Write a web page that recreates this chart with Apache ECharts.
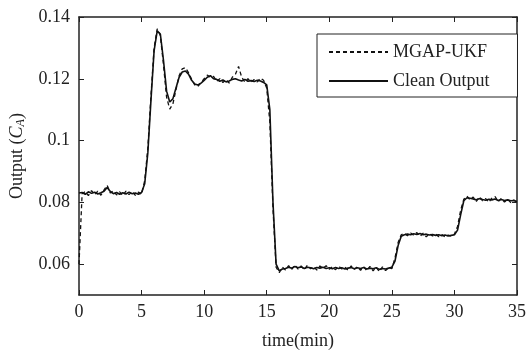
<!DOCTYPE html>
<html>
<head>
<meta charset="utf-8">
<script src="https://cdn.jsdelivr.net/npm/echarts@6/dist/echarts.min.js"></script>
<style>html,body{margin:0;padding:0;background:#fff;}#c{width:529px;height:355px;}</style>
</head>
<body>
<div id="c"></div>
<script>
var times = [
 0,0.25,0.5,0.75,1,1.25,1.5,1.75,2,2.25,2.5,2.75,3,3.25,3.5,3.75,4,4.25,4.5,4.75,
 5,5.25,5.5,5.75,6,6.25,6.5,6.75,7,7.25,7.5,7.75,8,8.25,8.5,8.75,9,9.25,9.5,9.75,
 10,10.25,10.5,10.75,11,11.25,11.5,11.75,12,12.25,12.5,12.75,13,13.25,13.5,13.75,14,14.25,14.5,14.75,
 15,15.25,15.5,15.75,16,16.25,16.5,16.75,17,17.25,17.5,17.75,18,18.25,18.5,18.75,19,19.25,19.5,19.75,
 20,20.25,20.5,20.75,21,21.25,21.5,21.75,22,22.25,22.5,22.75,23,23.25,23.5,23.75,24,24.25,24.5,24.75,
 25,25.25,25.5,25.75,26,26.25,26.5,26.75,27,27.25,27.5,27.75,28,28.25,28.5,28.75,29,29.25,29.5,29.75,
 30,30.25,30.5,30.75,31,31.25,31.5,31.75,32,32.25,32.5,32.75,33,33.25,33.5,33.75,34,34.25,34.5,34.75,
 35
];
var cleanOutput = [
 0.0830,0.0832,0.0826,0.0834,0.0829,0.0833,0.0827,0.0831,0.0836,0.0848,0.0835,0.0828,0.0832,0.0826,0.0831,0.0827,0.0833,0.0828,0.0830,0.0826,
 0.0832,0.0860,0.0960,0.1130,0.1290,0.1355,0.1345,0.1260,0.1160,0.1125,0.1135,0.1170,0.1205,0.1222,0.1225,0.1215,0.1195,0.1183,0.1180,0.1186,
 0.1195,0.1205,0.1210,0.1200,0.1198,0.1192,0.1196,0.1190,0.1193,0.1198,0.1200,0.1196,0.1193,0.1198,0.1192,0.1194,0.1191,0.1195,0.1193,0.1188,
 0.1180,0.1100,0.0800,0.0600,0.0578,0.0584,0.0586,0.0590,0.0587,0.0592,0.0588,0.0591,0.0586,0.0590,0.0588,0.0585,0.0589,0.0587,0.0590,0.0586,
 0.0588,0.0585,0.0589,0.0586,0.0588,0.0584,0.0587,0.0589,0.0585,0.0588,0.0586,0.0589,0.0584,0.0587,0.0585,0.0588,0.0583,0.0586,0.0584,0.0587,
 0.0590,0.0610,0.0660,0.0690,0.0695,0.0697,0.0695,0.0698,0.0696,0.0699,0.0695,0.0697,0.0694,0.0696,0.0693,0.0695,0.0692,0.0694,0.0691,0.0693,
 0.0695,0.0710,0.0760,0.0805,0.0815,0.0813,0.0811,0.0808,0.0812,0.0809,0.0807,0.0810,0.0808,0.0811,0.0806,0.0809,0.0806,0.0808,0.0805,0.0806,
 0.0803
];
var mgapUkf = [
 0.0600,0.0828,0.0835,0.0822,0.0838,0.0825,0.0836,0.0823,0.0840,0.0855,0.0830,0.0837,0.0824,0.0834,0.0822,0.0836,0.0825,0.0835,0.0823,0.0833,
 0.0826,0.0870,0.0975,0.1145,0.1300,0.1362,0.1340,0.1245,0.1140,0.1102,0.1118,0.1165,0.1210,0.1232,0.1236,0.1220,0.1198,0.1180,0.1175,0.1188,
 0.1200,0.1212,0.1205,0.1208,0.1192,0.1200,0.1188,0.1197,0.1186,0.1205,0.1215,0.1240,0.1205,0.1190,0.1200,0.1189,0.1198,0.1190,0.1202,0.1195,
 0.1170,0.1060,0.0780,0.0590,0.0572,0.0590,0.0581,0.0595,0.0583,0.0597,0.0584,0.0594,0.0582,0.0596,0.0585,0.0592,0.0581,0.0594,0.0586,0.0595,
 0.0583,0.0591,0.0582,0.0593,0.0584,0.0590,0.0580,0.0594,0.0583,0.0592,0.0580,0.0591,0.0579,0.0593,0.0578,0.0590,0.0576,0.0591,0.0579,0.0589,
 0.0585,0.0620,0.0670,0.0695,0.0700,0.0692,0.0701,0.0693,0.0702,0.0690,0.0700,0.0688,0.0699,0.0691,0.0697,0.0689,0.0696,0.0688,0.0694,0.0690,
 0.0697,0.0722,0.0775,0.0810,0.0820,0.0808,0.0817,0.0803,0.0818,0.0805,0.0812,0.0800,0.0814,0.0819,0.0802,0.0813,0.0801,0.0810,0.0799,0.0808,
 0.0798
];
var yTickValues = [0.06, 0.08, 0.1, 0.12, 0.14];
var yTickLabels = ['0.06', '0.08', '0.1', '0.12', '0.14'];
var seriesNames = ['MGAP-UKF', 'Clean Output'];

function pairs(t, v) { return t.map(function (x, i) { return [x, v[i]]; }); }

var font = 'Liberation Serif';
var axisLineStyle = { color: '#222', width: 1.5 };
var chart = echarts.init(document.getElementById('c'), null, { renderer: 'canvas' });
chart.setOption({
  animation: false,
  backgroundColor: '#fff',
  grid: { left: 79, right: 8, top: 17, bottom: 60, containLabel: false },
  legend: {
    orient: 'vertical', left: 317, top: 34,
    padding: [9, 28, 7, 11], itemGap: 11, itemWidth: 59, itemHeight: 14,
    borderColor: '#222', borderWidth: 1, backgroundColor: '#fff',
    itemStyle: { opacity: 0, color: 'transparent', borderWidth: 0 },
    textStyle: { fontFamily: font, fontSize: 18, color: '#222' },
    data: seriesNames
  },
  xAxis: [{
    type: 'value', min: 0, max: 35, interval: 5, position: 'bottom',
    name: 'time(min)', nameLocation: 'middle', nameGap: 37,
    nameTextStyle: { fontFamily: font, fontSize: 18, color: '#222' },
    axisLine: { show: true, onZero: false, lineStyle: axisLineStyle },
    axisTick: { show: true, inside: true, length: 5, lineStyle: { color: '#222' } },
    axisLabel: { fontFamily: font, fontSize: 18, color: '#222', margin: 8 },
    splitLine: { show: false }
  }, {
    type: 'value', min: 0, max: 35, interval: 5, position: 'top',
    axisLine: { show: true, onZero: false, lineStyle: axisLineStyle },
    axisTick: { show: true, inside: true, length: 5, lineStyle: { color: '#222' } },
    axisLabel: { show: false }, splitLine: { show: false }
  }],
  yAxis: [{
    type: 'value', min: 0.05, max: 0.14, position: 'left',
    name: 'Output ({i|C}{s|A})', nameLocation: 'middle', nameGap: 52,
    nameTextStyle: { fontFamily: font, fontSize: 18, color: '#222',
      rich: { i: { fontFamily: font, fontSize: 18, fontStyle: 'italic', color: '#222' },
              s: { fontFamily: font, fontSize: 12, fontStyle: 'italic', color: '#222', padding: [7, 0, 0, 0] } } },
    axisLine: { show: true, onZero: false, lineStyle: axisLineStyle },
    axisTick: { show: true, inside: true, length: 5, customValues: yTickValues, lineStyle: { color: '#222' } },
    axisLabel: { fontFamily: font, fontSize: 18, color: '#222', margin: 9, customValues: yTickValues,
      formatter: function (v) { var i = yTickValues.findIndex(function (t) { return Math.abs(t - v) < 1e-6; }); return i >= 0 ? yTickLabels[i] : ''; } },
    splitLine: { show: false }
  }, {
    type: 'value', min: 0.05, max: 0.14, position: 'right',
    axisLine: { show: true, onZero: false, lineStyle: axisLineStyle },
    axisTick: { show: true, inside: true, length: 5, customValues: yTickValues, lineStyle: { color: '#222' } },
    axisLabel: { show: false }, splitLine: { show: false }
  }],
  series: [{
    name: seriesNames[1], type: 'line', xAxisIndex: 0, yAxisIndex: 0,
    data: pairs(times, cleanOutput), showSymbol: false, symbol: 'none',
    lineStyle: { color: '#111', width: 1.6, type: 'solid' }, itemStyle: { color: '#111' }
  }, {
    name: seriesNames[0], type: 'line', xAxisIndex: 0, yAxisIndex: 0,
    data: pairs(times, mgapUkf), showSymbol: false, symbol: 'none',
    lineStyle: { color: '#111', width: 1.3, type: [4, 3] }, itemStyle: { color: '#111' }
  }]
});
</script>
</body>
</html>
